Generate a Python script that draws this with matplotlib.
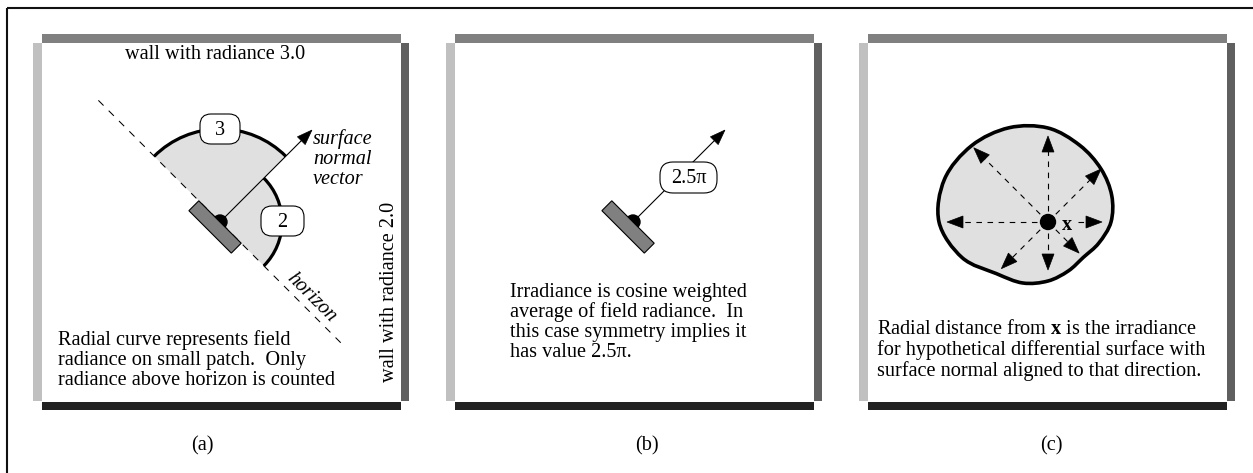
import numpy as np
import matplotlib
matplotlib.use("Agg")
import matplotlib.pyplot as plt
from matplotlib.patches import Rectangle, Wedge, Arc, Circle, Polygon, FancyBboxPatch, PathPatch
from matplotlib.path import Path

plt.rcParams['font.family'] = ['Liberation Serif', 'DejaVu Serif']
plt.rcParams['mathtext.fontset'] = 'custom'
plt.rcParams['mathtext.rm'] = 'Liberation Serif'
plt.rcParams['mathtext.bf'] = 'Liberation Serif:bold'
plt.rcParams['mathtext.it'] = 'Liberation Serif:italic'

# ---------------- data ----------------
panel_labels = ['(a)', '(b)', '(c)']
wall_colors = ['#c0c0c0', '#808080', '#606060', '#222222']  # left, top, right, bottom
top_wall_radiance = 3.0
right_wall_radiance = 2.0
wall_texts = ['wall with radiance 3.0', 'wall with radiance 2.0']
normal_text = ['surface', 'normal', 'vector']
irradiance_value = '2.5\u03c0'
text_a = ['Radial curve represents field',
          'radiance on small patch.  Only',
          'radiance above horizon is counted']
text_b = ['Irradiance is cosine weighted',
          'average of field radiance.  In',
          'this case symmetry implies it',
          'has value 2.5\u03c0.']
text_c = [r'Radial distance from $\mathbf{x}$ is the irradiance',
          'for hypothetical differential surface with',
          'surface normal aligned to that direction.']
# irradiance as a function of normal direction (panel c), arbitrary units
blob_angles = [0, 22.5, 45, 67.5, 90, 112.5, 135, 157.5,
               180, 202.5, 225, 247.5, 270, 292.5, 315, 337.5]
blob_irradiance = [6.3, 6.9, 7.5, 8.3, 9.4, 10.2, 10.8, 11.2,
                   10.9, 9.3, 7.3, 6.6, 5.9, 5.3, 5.0, 5.5]
arrow_angles = [0, 45, 90, 135, 180, 225, 270, 315]
arrow_lengths = [5.4, 7.5, 8.6, 10.5, 10.1, 6.6, 4.8, 4.4]

# ---------------- layout ----------------
W, H = 1253, 473
fig = plt.figure(figsize=(W / 100, H / 100), dpi=100)
ax = fig.add_axes([0, 0, 1, 1])
ax.set_xlim(0, W)
ax.set_ylim(H, 0)
ax.axis('off')

FS = 14.6
PANEL_DX = 413
RAD_SCALE = 31.0     # px per radiance unit (panel a)
BLOB_SCALE = 10.0    # px per irradiance unit (panel c)
P = np.array([220.0, 222.0])
n_dir = np.array([np.cos(np.pi / 4), -np.sin(np.pi / 4)])
t_dir = np.array([np.cos(np.pi / 4), np.sin(np.pi / 4)])

# outer frame (top & left only)
ax.plot([7, W], [8, 8], color='#111111', lw=1.5, solid_capstyle='butt')
ax.plot([7, 7], [8, H], color='#111111', lw=1.5, solid_capstyle='butt')


def head(tip, d, length, hw, z=6):
    base = tip - d * length
    perp = np.array([-d[1], d[0]])
    ax.add_patch(Polygon([tip, base + perp * hw, base - perp * hw],
                         closed=True, facecolor='black', edgecolor='black',
                         lw=0.5, zorder=z))


def walls(ox):
    x0, x1, y0, y1 = 42 + ox, 401 + ox, 43, 401
    ax.add_patch(Rectangle((x0 - 9, y0), 9, y1 - y0, color=wall_colors[0], lw=0))
    ax.add_patch(Rectangle((x0, y0 - 9), x1 - x0, 9, color=wall_colors[1], lw=0))
    ax.add_patch(Rectangle((x1, y0), 8, y1 - y0, color=wall_colors[2], lw=0))
    ax.add_patch(Rectangle((x0, y1 + 1), x1 - x0, 8, color=wall_colors[3], lw=0))


def patch_and_normal(ox, arrow_len=130):
    c = P + np.array([ox, 0])
    tip = c + n_dir * arrow_len
    ax.plot([c[0], tip[0] - n_dir[0] * 10], [c[1], tip[1] - n_dir[1] * 10],
            color='black', lw=0.8, zorder=5)
    head(tip, n_dir, 15, 5.5)
    ax.add_patch(Circle(c, 7, color='black', zorder=6))
    corners = [c - 30 * t_dir, c + 30 * t_dir,
               c + 30 * t_dir - 14 * n_dir, c - 30 * t_dir - 14 * n_dir]
    ax.add_patch(Polygon(corners, closed=True, facecolor='#808080',
                         edgecolor='black', lw=0.8, zorder=7))
    return c


def rbox(cx, cy, w, h, r, label, z=8):
    ax.add_patch(FancyBboxPatch((cx - w / 2, cy - h / 2), w, h,
                                boxstyle=f'round,pad=0,rounding_size={r}',
                                facecolor='white', edgecolor='black', lw=0.8, zorder=z))
    ax.text(cx, cy + 1, label, fontsize=FS, ha='center', va='center', zorder=z + 1)


# ================= panel (a) =================
ox = 0
walls(ox)
c = P.copy()
r3 = top_wall_radiance * RAD_SCALE
r2 = right_wall_radiance * RAD_SCALE
ax.add_patch(Wedge(c, r3, -135, -45, facecolor='#e0e0e0', lw=0, zorder=2))
ax.add_patch(Wedge(c, r2, -45, 45, facecolor='#e0e0e0', lw=0, zorder=2))
ax.add_patch(Arc(c, 2 * r3, 2 * r3, theta1=-135, theta2=-45, color='black', lw=2.3, zorder=4))
ax.add_patch(Arc(c, 2 * r2, 2 * r2, theta1=-45, theta2=45, color='black', lw=2.3, zorder=4))
h0, h1 = c - 172 * t_dir, c + 172 * t_dir
ax.plot([h0[0], h1[0]], [h0[1], h1[1]], color='black', lw=0.75, dashes=(7, 7), zorder=3)
patch_and_normal(ox)
rbox(c[0], c[1] - r3, 40, 30, 11, '3')
rbox(c[0] + r2 + 0.5, c[1] - 1, 43, 30, 11, '2')
ax.text(215, 59, wall_texts[0], fontsize=FS, ha='center', va='baseline')
ax.text(390, 292, wall_texts[1], fontsize=FS, ha='center', va='center', rotation=90)
for i, s in enumerate(normal_text):
    ax.text(313, 144 + 20 * i, s, fontsize=FS, style='italic', ha='left', va='baseline')
ax.text(311, 298, 'horizon', fontsize=FS, style='italic', ha='center', va='center',
        rotation=-45, rotation_mode='anchor')
for i, s in enumerate(text_a):
    ax.text(58, 345 + 20 * i, s, fontsize=FS, ha='left', va='baseline')
ax.text(202, 446, panel_labels[0], fontsize=FS, ha='center', va='center')

# ================= panel (b) =================
ox = PANEL_DX
walls(ox)
patch_and_normal(ox)
rbox(688.5, 177.5, 57, 31, 13, irradiance_value)
for i, s in enumerate(text_b):
    ax.text(510, 297 + 20 * i, s, fontsize=FS, ha='left', va='baseline')
ax.text(647, 446, panel_labels[1], fontsize=FS, ha='center', va='center')

# ================= panel (c) =================
ox = 2 * PANEL_DX
walls(ox)
cc = np.array([P[0] + ox + 2, P[1]])
ang = np.deg2rad(blob_angles)
rr = np.array(blob_irradiance) * BLOB_SCALE
pts = np.column_stack([cc[0] + rr * np.cos(ang), cc[1] - rr * np.sin(ang)])
N = len(pts)
verts = [pts[0]]
codes = [Path.MOVETO]
for i in range(N):
    p0, p1, p2, p3 = pts[i - 1], pts[i], pts[(i + 1) % N], pts[(i + 2) % N]
    verts += [p1 + (p2 - p0) / 6, p2 - (p3 - p1) / 6, p2]
    codes += [Path.CURVE4] * 3
verts.append(pts[0])
codes.append(Path.CLOSEPOLY)
ax.add_patch(PathPatch(Path(verts, codes), facecolor='#e0e0e0', edgecolor='black',
                       lw=2.6, zorder=2))
for a, L in zip(arrow_angles, arrow_lengths):
    th = np.deg2rad(a)
    d = np.array([np.cos(th), -np.sin(th)])
    tip = cc + d * L * BLOB_SCALE
    r0 = 30 if a == 0 else 11
    s0 = cc + d * r0
    s1 = tip - d * 14
    ax.plot([s0[0], s1[0]], [s0[1], s1[1]], color='black', lw=0.8,
            dashes=(5, 5), zorder=5)
    head(tip, d, 16, 6)
ax.add_patch(Circle(cc, 7.5, color='black', zorder=6))
ax.text(cc[0] + 19, cc[1] + 3, 'x', fontsize=FS, fontweight='bold',
        ha='center', va='center', zorder=7)
for i, s in enumerate(text_c):
    ax.text(877, 334 + 21 * i, s, fontsize=FS, ha='left', va='baseline')
ax.text(1051, 446, panel_labels[2], fontsize=FS, ha='center', va='center')

fig.savefig('out.png', dpi=100)
